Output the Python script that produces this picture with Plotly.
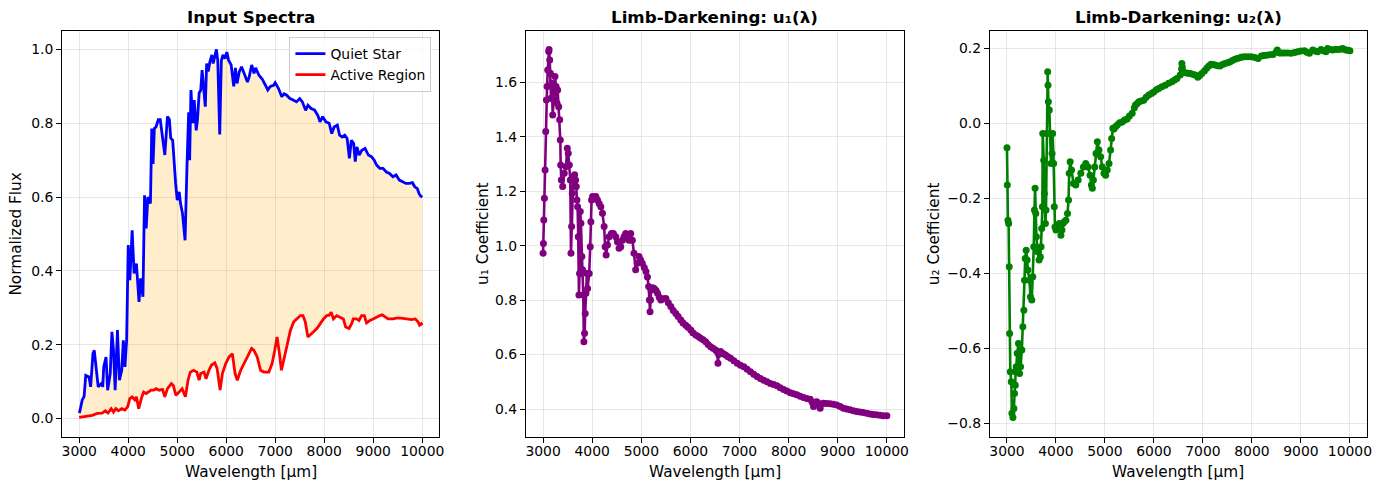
import plotly.graph_objects as go

# ---------------- data ----------------
qs_wl = [3000, 3013, 3060, 3100, 3133, 3200, 3233, 3280, 3307, 3347, 3387, 3453, 3480, 3500, 3547, 3580,
         3633, 3667, 3700, 3733, 3780, 3820, 3867, 3900, 3933, 3967, 4000, 4033, 4080, 4120, 4167, 4220,
         4253, 4300, 4333, 4367, 4400, 4453, 4480, 4507, 4533, 4567, 4613, 4653, 4700, 4747, 4800, 4840,
         4867, 4907, 4967, 5000, 5040, 5067, 5107, 5160, 5200, 5233, 5253, 5280, 5320, 5347, 5387, 5413,
         5447, 5480, 5507, 5533, 5573, 5600, 5633, 5667, 5707, 5733, 5767, 5800, 5827, 5867, 5900, 5933,
         5973, 6013, 6047, 6100, 6153, 6187, 6220, 6267, 6313, 6367, 6433, 6467, 6520, 6567, 6600, 6667,
         6733, 6800, 6847, 6900, 6967, 7000, 7067, 7133, 7180, 7233, 7300, 7367, 7433, 7500, 7553, 7620,
         7667, 7733, 7800, 7867, 7913, 7967, 8033, 8100, 8153, 8200, 8267, 8313, 8367, 8420, 8467, 8513,
         8553, 8600, 8633, 8667, 8713, 8767, 8833, 8900, 8967, 9020, 9067, 9133, 9200, 9267, 9333, 9400,
         9467, 9533, 9600, 9667, 9733, 9800, 9847, 9900, 9933, 9967, 10000]
qs_flux = [0.015, 0.02, 0.05, 0.06, 0.117, 0.113, 0.086, 0.176, 0.185, 0.14, 0.086, 0.095, 0.086, 0.14, 0.167, 0.077,
           0.122, 0.235, 0.185, 0.077, 0.24, 0.104, 0.131, 0.212, 0.14, 0.212, 0.47, 0.375, 0.51, 0.393, 0.42, 0.316,
           0.38, 0.33, 0.605, 0.515, 0.6, 0.583, 0.786, 0.69, 0.786, 0.79, 0.81, 0.81, 0.763, 0.714, 0.818, 0.81,
           0.76, 0.754, 0.637, 0.592, 0.614, 0.583, 0.556, 0.483, 0.69, 0.83, 0.7, 0.89, 0.8, 0.863, 0.781, 0.81,
           0.882, 0.89, 0.944, 0.908, 0.845, 0.962, 0.94, 0.967, 0.985, 0.962, 0.985, 1.0, 0.97, 0.77, 0.97, 0.985,
           0.975, 0.993, 0.971, 0.958, 0.9, 0.95, 0.908, 0.94, 0.953, 0.935, 0.912, 0.925, 0.958, 0.935, 0.95, 0.93,
           0.92, 0.903, 0.89, 0.9, 0.903, 0.91, 0.894, 0.872, 0.88, 0.876, 0.867, 0.863, 0.858, 0.867, 0.858, 0.835,
           0.849, 0.84, 0.836, 0.822, 0.804, 0.818, 0.804, 0.8, 0.772, 0.79, 0.795, 0.768, 0.763, 0.768, 0.759, 0.705,
           0.754, 0.745, 0.696, 0.736, 0.714, 0.727, 0.732, 0.714, 0.709, 0.7, 0.687, 0.678, 0.678, 0.668, 0.664, 0.655,
           0.66, 0.646, 0.641, 0.637, 0.637, 0.639, 0.628, 0.623, 0.61, 0.603, 0.6]

ar_wl = [3000, 3133, 3267, 3367, 3467, 3533, 3587, 3653, 3700, 3747, 3800, 3867, 3933, 3987, 4033, 4080,
         4133, 4167, 4213, 4267, 4313, 4367, 4413, 4467, 4520, 4567, 4633, 4700, 4747, 4800, 4880, 4920,
         4973, 5033, 5100, 5167, 5220, 5267, 5333, 5400, 5447, 5480, 5547, 5587, 5647, 5700, 5767, 5813,
         5875, 5922, 5990, 6058, 6125, 6180, 6226, 6295, 6362, 6429, 6478, 6518, 6565, 6632, 6700, 6767,
         6869, 6936, 6990, 7037, 7086, 7126, 7173, 7240, 7309, 7376, 7443, 7512, 7565, 7613, 7666, 7715,
         7782, 7850, 7918, 7985, 8052, 8100, 8141, 8188, 8255, 8323, 8390, 8437, 8506, 8559, 8593, 8661,
         8709, 8762, 8817, 8864, 8932, 8999, 9066, 9134, 9181, 9235, 9302, 9404, 9472, 9573, 9675, 9776,
         9858, 9912, 9946, 9980, 10000]
ar_flux = [0.003, 0.006, 0.009, 0.014, 0.015, 0.021, 0.015, 0.027, 0.018, 0.027, 0.021, 0.027, 0.023, 0.032, 0.054, 0.059,
           0.051, 0.059, 0.027, 0.054, 0.072, 0.068, 0.072, 0.077, 0.077, 0.081, 0.077, 0.079, 0.059, 0.081, 0.095, 0.09,
           0.063, 0.072, 0.081, 0.059, 0.104, 0.126, 0.131, 0.126, 0.104, 0.122, 0.126, 0.108, 0.131, 0.145, 0.151, 0.136,
           0.077, 0.122, 0.149, 0.167, 0.176, 0.122, 0.104, 0.131, 0.149, 0.167, 0.181, 0.19, 0.185, 0.167, 0.131, 0.126,
           0.126, 0.149, 0.185, 0.221, 0.176, 0.131, 0.158, 0.194, 0.239, 0.262, 0.27, 0.279, 0.279, 0.262, 0.221, 0.226,
           0.235, 0.244, 0.257, 0.27, 0.279, 0.28, 0.288, 0.27, 0.279, 0.275, 0.27, 0.248, 0.244, 0.257, 0.27, 0.27,
           0.266, 0.279, 0.279, 0.259, 0.266, 0.27, 0.275, 0.279, 0.281, 0.275, 0.27, 0.27, 0.272, 0.272, 0.27, 0.268,
           0.27, 0.262, 0.253, 0.257, 0.253]

u1_wl = [3000, 3007, 3014, 3027, 3041, 3054, 3068, 3081, 3095, 3115, 3122, 3135, 3149, 3162, 3176, 3196,
         3216, 3243, 3264, 3284, 3297, 3318, 3338, 3351, 3358, 3372, 3399, 3432, 3466, 3493, 3513, 3534,
         3554, 3568, 3581, 3595, 3615, 3642, 3662, 3676, 3689, 3703, 3716, 3730, 3743, 3757, 3770, 3790,
         3804, 3818, 3831, 3845, 3858, 3872, 3892, 3906, 3939, 3960, 3973, 3987, 4007, 4041, 4074, 4108,
         4142, 4176, 4209, 4243, 4264, 4284, 4311, 4345, 4392, 4432, 4480, 4514, 4547, 4581, 4615, 4649,
         4682, 4716, 4750, 4784, 4818, 4851, 4885, 4919, 4953, 4986, 5020, 5060, 5095, 5125, 5150, 5165,
         5178, 5188, 5200, 5230, 5264, 5300, 5331, 5365, 5399, 5450, 5500, 5550, 5601, 5650, 5703, 5750,
         5804, 5850, 5905, 5950, 6007, 6050, 6108, 6160, 6209, 6260, 6311, 6360, 6412, 6460, 6514, 6545,
         6561, 6575, 6615, 6665, 6716, 6765, 6818, 6885, 6953, 7020, 7088, 7155, 7223, 7290, 7358, 7425,
         7493, 7560, 7628, 7695, 7763, 7830, 7898, 7965, 8034, 8100, 8169, 8236, 8304, 8370, 8439, 8480,
         8507, 8540, 8574, 8610, 8642, 8675, 8709, 8777, 8845, 8910, 8980, 9050, 9115, 9180, 9250, 9318,
         9385, 9450, 9520, 9590, 9655, 9720, 9790, 9860, 9926, 10000]
u1_val = [0.972, 1.008, 1.094, 1.174, 1.278, 1.419, 1.535, 1.584, 1.645, 1.713, 1.72, 1.682, 1.633, 1.541, 1.596, 1.48,
          1.535, 1.621, 1.584, 1.523, 1.572, 1.51, 1.462, 1.388, 1.296, 1.241, 1.217, 1.266, 1.29, 1.358, 1.339, 1.296,
          1.241, 0.972, 1.07, 1.192, 1.253, 1.26, 1.241, 1.217, 1.168, 1.143, 1.033, 0.819, 0.898, 1.125, 1.082, 0.96,
          0.911, 0.819, 0.647, 0.678, 0.751, 0.825, 0.898, 0.843, 0.898, 0.996, 1.088, 1.168, 1.18, 1.174, 1.18, 1.168,
          1.155, 1.143, 1.119, 1.07, 0.996, 0.966, 1.002, 1.033, 1.045, 1.045, 1.033, 1.014, 0.99, 0.996, 1.02, 1.033,
          1.045, 1.033, 1.02, 1.045, 1.02, 0.972, 0.911, 0.935, 0.96, 0.947, 0.935, 0.92, 0.905, 0.885, 0.85, 0.8,
          0.757, 0.8, 0.837, 0.845, 0.843, 0.835, 0.825, 0.81, 0.8, 0.805, 0.806, 0.79, 0.776, 0.762, 0.751, 0.74,
          0.727, 0.716, 0.708, 0.7, 0.69, 0.68, 0.672, 0.666, 0.66, 0.654, 0.647, 0.637, 0.629, 0.623, 0.617, 0.61,
          0.568, 0.6, 0.611, 0.604, 0.598, 0.592, 0.586, 0.577, 0.568, 0.561, 0.555, 0.546, 0.537, 0.528, 0.519, 0.512,
          0.506, 0.5, 0.494, 0.49, 0.485, 0.478, 0.472, 0.466, 0.46, 0.456, 0.452, 0.447, 0.442, 0.439, 0.436, 0.425,
          0.409, 0.425, 0.427, 0.42, 0.403, 0.418, 0.421, 0.42, 0.419, 0.417, 0.415, 0.409, 0.403, 0.4, 0.397, 0.394,
          0.391, 0.389, 0.387, 0.384, 0.382, 0.38, 0.379, 0.377, 0.375, 0.375]

u2_wl = [3000, 3007, 3020, 3034, 3047, 3054, 3068, 3088, 3101, 3122, 3142, 3155, 3169, 3175, 3189, 3209,
         3236, 3257, 3277, 3304, 3324, 3345, 3358, 3372, 3392, 3412, 3426, 3459, 3480, 3507, 3527, 3547,
         3561, 3574, 3588, 3601, 3628, 3655, 3682, 3696, 3709, 3723, 3730, 3750, 3764, 3784, 3797, 3811,
         3831, 3838, 3845, 3865, 3878, 3899, 3919, 3932, 3953, 3966, 3980, 4000, 4034, 4068, 4101, 4122,
         4142, 4169, 4203, 4236, 4257, 4270, 4290, 4318, 4358, 4405, 4453, 4507, 4561, 4608, 4655, 4696,
         4723, 4743, 4764, 4791, 4818, 4845, 4878, 4912, 4946, 4980, 5014, 5047, 5083, 5115, 5137, 5162,
         5184, 5216, 5252, 5300, 5353, 5400, 5454, 5500, 5556, 5600, 5623, 5660, 5691, 5740, 5792, 5840,
         5894, 5950, 5995, 6050, 6097, 6160, 6232, 6300, 6367, 6420, 6469, 6536, 6565, 6570, 6580, 6590,
         6638, 6690, 6739, 6790, 6840, 6895, 6935, 6976, 7030, 7077, 7120, 7165, 7200, 7246, 7300, 7348,
         7400, 7449, 7500, 7550, 7600, 7652, 7700, 7753, 7800, 7855, 7920, 7990, 8060, 8125, 8193, 8240,
         8295, 8360, 8430, 8490, 8517, 8565, 8610, 8666, 8730, 8800, 8870, 8935, 9000, 9072, 9120, 9173,
         9241, 9290, 9342, 9410, 9460, 9511, 9545, 9600, 9646, 9700, 9747, 9800, 9849, 9880, 9917, 9960, 10000]
u2_val = [-0.065, -0.164, -0.258, -0.267, -0.382, -0.56, -0.662, -0.689, -0.773, -0.784, -0.76, -0.72, -0.698, -0.662, -0.649, -0.613,
          -0.587, -0.667, -0.649, -0.604, -0.542, -0.498, -0.418, -0.36, -0.338, -0.364, -0.391, -0.418, -0.462, -0.471, -0.409, -0.329,
          -0.231, -0.173, -0.24, -0.302, -0.342, -0.364, -0.356, -0.329, -0.28, -0.222, -0.027, -0.098, -0.187, -0.267, -0.231, -0.027,
          0.138, 0.102, 0.058, 0.036, -0.027, -0.107, -0.08, -0.027, -0.107, -0.222, -0.276, -0.284, -0.276, -0.267, -0.298, -0.284,
          -0.267, -0.262, -0.258, -0.24, -0.204, -0.133, -0.102, -0.124, -0.16, -0.164, -0.151, -0.133, -0.116, -0.107, -0.116, -0.138,
          -0.164, -0.173, -0.151, -0.116, -0.08, -0.049, -0.071, -0.089, -0.116, -0.133, -0.138, -0.124, -0.107, -0.071, -0.04, -0.013,
          -0.015, -0.009, -0.004, 0.002, 0.004, 0.009, 0.012, 0.02, 0.027, 0.042, 0.049, 0.053, 0.058, 0.06, 0.062, 0.07,
          0.076, 0.08, 0.084, 0.09, 0.093, 0.098, 0.102, 0.107, 0.111, 0.116, 0.12, 0.129, 0.145, 0.16, 0.15, 0.138,
          0.135, 0.134, 0.133, 0.131, 0.129, 0.123, 0.128, 0.133, 0.14, 0.147, 0.153, 0.158, 0.157, 0.156, 0.154, 0.153,
          0.157, 0.16, 0.162, 0.164, 0.168, 0.171, 0.173, 0.175, 0.177, 0.178, 0.178, 0.178, 0.176, 0.173, 0.18, 0.181,
          0.182, 0.183, 0.184, 0.19, 0.196, 0.188, 0.188, 0.188, 0.188, 0.187, 0.189, 0.191, 0.193, 0.194, 0.19, 0.187,
          0.196, 0.193, 0.191, 0.197, 0.194, 0.191, 0.2, 0.197, 0.196, 0.197, 0.197, 0.198, 0.2, 0.198, 0.196, 0.195, 0.194]

titles = ["Input Spectra", "Limb-Darkening: u\u2081(\u03bb)", "Limb-Darkening: u\u2082(\u03bb)"]
ylabels = ["Normalized Flux", "u\u2081 Coefficient", "u\u2082 Coefficient"]
xlabel = "Wavelength [\u03bcm]"

# ---------------- figure ----------------
W, H = 1387, 490
FONT = "DejaVu Sans"

def fx(p):
    return p / W

def fy(p):
    return 1 - p / H

top_px, bot_px = 30.8, 436.5
panels_px = [(62.3, 441.0), (527.8, 907.3), (993.4, 1372.0)]

fig = go.Figure()

# fill between spectra
fig.add_trace(go.Scatter(
    x=qs_wl + ar_wl[::-1], y=qs_flux + ar_flux[::-1],
    fill="toself", fillcolor="rgba(255,165,0,0.2)", mode="lines",
    line=dict(width=0), hoverinfo="skip", showlegend=False,
    xaxis="x", yaxis="y"))
fig.add_trace(go.Scatter(x=qs_wl, y=qs_flux, mode="lines", name="Quiet Star",
                         line=dict(color="blue", width=2.8), xaxis="x", yaxis="y"))
fig.add_trace(go.Scatter(x=ar_wl, y=ar_flux, mode="lines", name="Active Region",
                         line=dict(color="red", width=2.8), xaxis="x", yaxis="y"))
fig.add_trace(go.Scatter(x=u1_wl, y=u1_val, mode="lines+markers", showlegend=False,
                         line=dict(color="purple", width=2.6),
                         marker=dict(color="purple", size=7),
                         xaxis="x2", yaxis="y2"))
fig.add_trace(go.Scatter(x=u2_wl, y=u2_val, mode="lines+markers", showlegend=False,
                         line=dict(color="green", width=2.6),
                         marker=dict(color="green", size=7),
                         xaxis="x3", yaxis="y3"))

common = dict(showline=True, mirror=True, linecolor="black", linewidth=1.1,
              ticks="outside", ticklen=5, tickwidth=1.1, tickcolor="black",
              showgrid=True, gridcolor="rgba(176,176,176,0.3)", gridwidth=0.8,
              zeroline=False, tickfont=dict(family=FONT, size=13.9, color="black"))

yranges = [[-0.0485, 1.0505], [0.299, 1.789], [-0.835, 0.247]]
layout = dict(width=W, height=H, margin=dict(l=0, r=0, t=0, b=0),
              paper_bgcolor="white", plot_bgcolor="white",
              font=dict(family=FONT, color="black"))
for i, (l, r) in enumerate(panels_px):
    sfx = "" if i == 0 else str(i + 1)
    layout["xaxis" + sfx] = dict(common, domain=[fx(l), fx(r)], range=[2650, 10350],
                                 tickmode="linear", tick0=0, dtick=1000, tickformat="d",
                                 ticklabelstandoff=-3, anchor="y" + sfx)
    layout["yaxis" + sfx] = dict(common, domain=[fy(bot_px), fy(top_px)], range=yranges[i],
                                 tickmode="linear", tick0=0, dtick=0.2, tickformat=".1f",
                                 anchor="x" + sfx)
fig.update_layout(**layout)

fig.update_layout(legend=dict(x=fx(433), y=fy(37), xanchor="right", yanchor="top",
                              bgcolor="rgba(255,255,255,0.8)", bordercolor="#cccccc",
                              borderwidth=1, font=dict(family=FONT, size=13.9, color="black"),
                              tracegroupgap=0, itemwidth=30))

ylab_x = [16, 484, 937]
anns = []
for i, (l, r) in enumerate(panels_px):
    cx = (l + r) / 2
    anns.append(dict(text="<b>" + titles[i] + "</b>", x=fx(cx), y=fy(17), xref="paper", yref="paper",
                     showarrow=False, xanchor="center", yanchor="middle",
                     font=dict(family=FONT, size=16.7, color="black")))
    anns.append(dict(text=xlabel, x=fx(cx), y=fy(472), xref="paper", yref="paper",
                     showarrow=False, xanchor="center", yanchor="middle",
                     font=dict(family=FONT, size=15.3, color="black")))
    anns.append(dict(text=ylabels[i], x=fx(ylab_x[i]), y=fy((top_px + bot_px) / 2), xref="paper", yref="paper",
                     showarrow=False, xanchor="center", yanchor="middle", textangle=-90,
                     font=dict(family=FONT, size=15.3, color="black")))
fig.update_layout(annotations=anns)

fig.write_html("out.html")
